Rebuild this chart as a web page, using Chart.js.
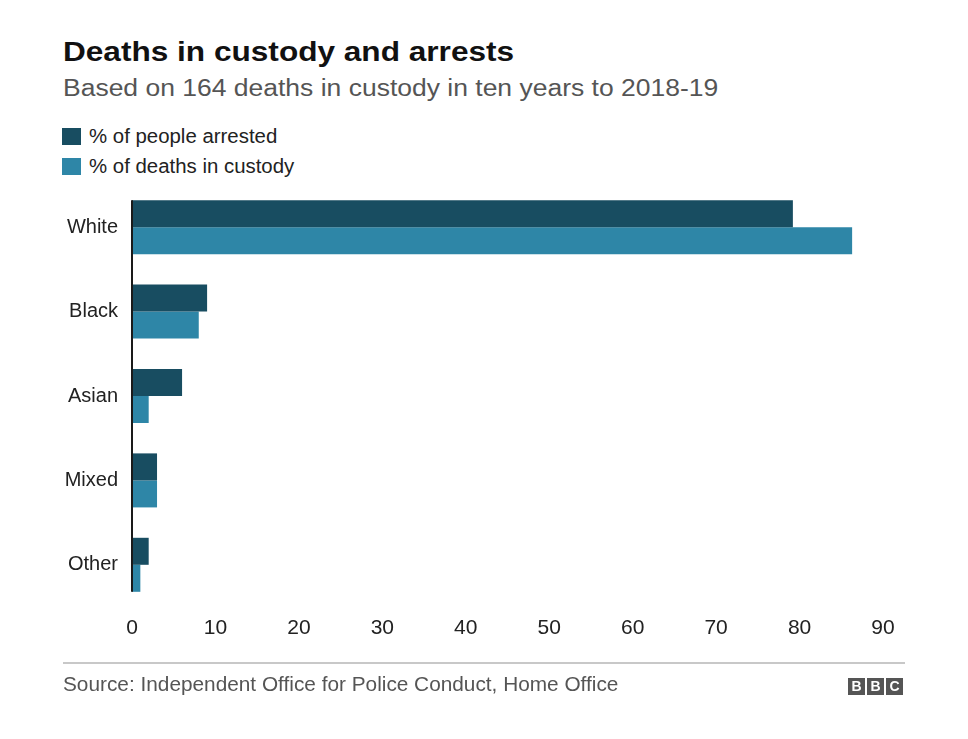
<!DOCTYPE html>
<html>
<head>
<meta charset="utf-8">
<script src="https://cdn.jsdelivr.net/npm/chart.js@4"></script>
<style>
  html, body { margin: 0; padding: 0; background: #fff; }
  body { width: 968px; height: 739px; position: relative; overflow: hidden; font-family: "Liberation Sans", Arial, Helvetica, sans-serif; }
  .t { position: absolute; white-space: nowrap; transform-origin: 0 0; }
  #title { left: 63px; top: 36px; font-size: 28px; font-weight: bold; color: #111; transform: scaleX(1.128); }
  #subtitle { left: 63px; top: 75px; font-size: 23.5px; color: #555; transform: scaleX(1.127); }
  .sw { position: absolute; left: 62px; width: 19px; height: 17px; }
  .leg { left: 89px; font-size: 20px; color: #222; transform: scaleX(1.02); }
  #leg1 { top: 125px; }
  #leg2 { top: 155px; }
  #chartwrap { position: absolute; left: 0; top: 0; width: 968px; height: 739px; }
  #rule { position: absolute; left: 63px; top: 662px; width: 842px; height: 2px; background: #c8c8c8; }
  #source { left: 63px; top: 673px; font-size: 20px; color: #555; transform: scaleX(1.04); }
  #bbc { position: absolute; left: 848px; top: 677px; }
  #bbc span { display: inline-block; width: 17px; height: 17px; background: #555; color: #fff; font-weight: bold; font-size: 14px; line-height: 17px; text-align: center; margin-right: 2px; }
</style>
</head>
<body>
<div class="t" id="title">Deaths in custody and arrests</div>
<div class="t" id="subtitle">Based on 164 deaths in custody in ten years to 2018-19</div>
<div class="sw" style="top:128px;background:#184d61"></div>
<div class="sw" style="top:158px;background:#2e86a7"></div>
<div class="t leg" id="leg1">% of people arrested</div>
<div class="t leg" id="leg2">% of deaths in custody</div>
<div id="chartwrap"><canvas id="c" width="968" height="739"></canvas></div>
<div id="rule"></div>
<div class="t" id="source">Source: Independent Office for Police Conduct, Home Office</div>
<div id="bbc"><span>B</span><span>B</span><span>C</span></div>
<script>
const categories = ["White", "Black", "Asian", "Mixed", "Other"];
const arrested = [79.2, 9, 6, 3, 2];
const deaths = [86.3, 8, 2, 3, 1];
const xTicks = [0, 10, 20, 30, 40, 50, 60, 70, 80, 90];

const seriesNames = ["% of people arrested", "% of deaths in custody"];
const colors = ["#184d61", "#2e86a7"];

const CAT_PCT = 0.64;

const axisLine = {
  id: 'axisLine',
  afterDatasetsDraw(chart) {
    const y = chart.scales.y, x = chart.scales.x;
    const ctx = chart.ctx;
    const band = (y.getPixelForValue(1) - y.getPixelForValue(0));
    const half = band * CAT_PCT / 2;
    const top = y.getPixelForValue(0) - half;
    const bottom = y.getPixelForValue(categories.length - 1) + half;
    const x0 = x.getPixelForValue(0);
    ctx.save();
    ctx.strokeStyle = '#1a1a1a';
    ctx.lineWidth = 2;
    ctx.beginPath();
    ctx.moveTo(x0, top);
    ctx.lineTo(x0, bottom);
    ctx.stroke();
    ctx.restore();
  }
};

new Chart(document.getElementById('c'), {
  type: 'bar',
  data: {
    labels: categories,
    datasets: [
      { label: seriesNames[0], data: arrested, backgroundColor: colors[0], borderWidth: 0 },
      { label: seriesNames[1], data: deaths, backgroundColor: colors[1], borderWidth: 0 }
    ]
  },
  options: {
    indexAxis: 'y',
    responsive: false,
    animation: false,
    devicePixelRatio: 1,
    layout: { padding: { top: 185, left: 0, right: 85, bottom: 87 } },
    datasets: { bar: { barPercentage: 1.0, categoryPercentage: CAT_PCT } },
    plugins: { legend: { display: false }, tooltip: { enabled: false }, title: { display: false } },
    scales: {
      x: {
        min: 0, max: 90,
        afterBuildTicks(scale) { scale.ticks = xTicks.map(v => ({ value: v })); },
        afterFit(scale) { scale.height = 45; },
        grid: { display: false, drawTicks: false },
        border: { display: false },
        ticks: { color: '#222', font: { family: '"Liberation Sans", Arial, sans-serif', size: 21 }, padding: 9, maxRotation: 0, autoSkip: false }
      },
      y: {
        afterFit(scale) { scale.width = 132; },
        grid: { display: false, drawTicks: false },
        border: { display: false },
        ticks: { color: '#222', font: { family: '"Liberation Sans", Arial, sans-serif', size: 20 }, padding: 14 }
      }
    }
  },
  plugins: [axisLine]
});
</script>
</body>
</html>
